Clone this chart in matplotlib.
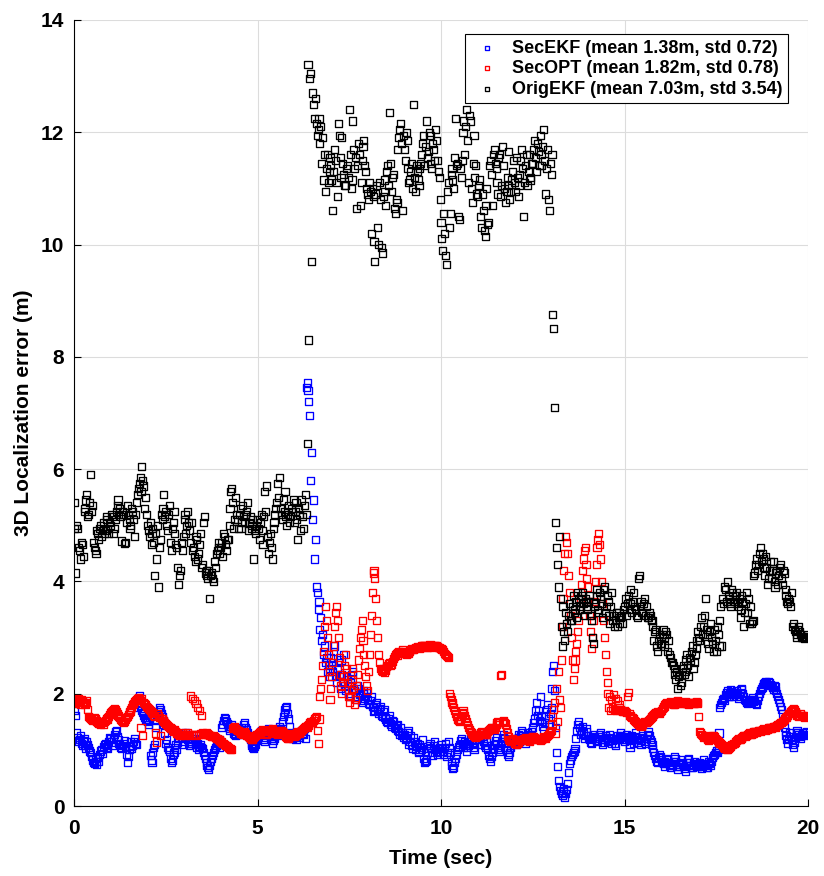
import numpy as np
import matplotlib.pyplot as plt

plt.rcParams['font.family'] = ['Liberation Sans', 'DejaVu Sans']
plt.rcParams['font.weight'] = 'bold'

# sample step of the logged errors (sec), 40 samples per row / second
dt = 0.025

# SecEKF error (m), one row per second
sec_ekf = [
    [1.85, 1.70, 1.62, 1.30, 1.22, 1.15, 1.18, 1.25, 1.12, 1.08, 1.16, 1.20, 1.08, 1.02, 1.14, 1.10, 1.05, 0.98, 0.95, 0.88,
     0.82, 0.78, 0.76, 0.84, 0.80, 0.74, 0.86, 0.80, 0.92, 0.98, 1.00, 0.94, 1.06, 1.10, 1.12, 1.04, 1.02, 1.08, 1.15, 1.22],
    [1.20, 1.14, 1.08, 1.18, 1.28, 1.32, 1.35, 1.24, 1.18, 1.12, 1.10, 1.05, 1.02, 1.08, 1.12, 1.16, 1.06, 0.92, 0.78, 0.88,
     1.00, 1.06, 1.14, 1.02, 1.08, 1.15, 1.20, 1.12, 1.10, 1.75, 1.92, 1.96, 1.85, 1.78, 1.70, 1.66, 1.62, 1.58, 1.55, 1.52],
    [1.50, 1.45, 1.58, 0.90, 0.82, 0.78, 0.95, 1.05, 1.10, 1.40, 1.55, 1.62, 1.68, 1.75, 1.72, 1.65, 1.60, 1.52, 1.45, 1.30,
     1.12, 1.18, 1.05, 1.00, 0.98, 0.85, 0.78, 0.82, 0.92, 0.96, 1.04, 1.10, 1.00, 1.14, 1.20, 1.25, 1.28, 1.20, 1.15, 1.10],
    [1.22, 1.26, 1.30, 1.24, 1.18, 1.12, 1.08, 1.15, 1.12, 1.20, 1.25, 1.20, 1.16, 1.10, 1.05, 1.12, 1.00, 1.06, 1.10, 1.04,
     1.02, 0.95, 0.90, 0.84, 0.78, 0.72, 0.68, 0.65, 0.72, 0.80, 0.85, 0.90, 0.95, 1.00, 1.05, 1.08, 1.12, 1.15, 1.18, 1.05],
    [1.10, 1.40, 1.45, 1.52, 1.58, 1.55, 1.50, 1.46, 1.42, 1.35, 1.38, 1.42, 1.45, 1.38, 1.30, 1.28, 1.25, 1.32, 1.35, 1.30,
     1.28, 1.34, 1.40, 1.36, 1.32, 1.45, 1.48, 1.40, 1.36, 1.30, 1.25, 1.22, 1.18, 1.12, 1.08, 1.05, 1.02, 1.06, 1.10, 1.16],
    [1.20, 1.24, 1.28, 1.32, 1.35, 1.30, 1.22, 1.18, 1.15, 1.25, 1.30, 1.34, 1.38, 1.30, 1.26, 1.20, 1.12, 1.16, 1.20, 1.28,
     1.32, 1.28, 1.25, 1.36, 1.42, 1.38, 1.35, 1.50, 1.60, 1.66, 1.72, 1.75, 1.78, 1.65, 1.55, 1.42, 1.30, 1.25, 1.20, 1.22],
    [1.25, 1.30, 1.18, 1.24, 1.30, 1.26, 1.22, 1.32, 1.35, 1.30, 1.28, 1.38, 1.20, 7.45, 7.55, 7.40, 7.20, 6.95, 5.80, 6.30,
     5.10, 5.45, 4.40, 4.75, 3.90, 3.80, 3.50, 3.65, 3.15, 3.35, 2.95, 3.05, 2.70, 2.85, 2.55, 2.65, 2.40, 2.50, 2.30, 2.45],
    [2.65, 2.50, 2.40, 2.75, 2.85, 2.30, 2.20, 2.45, 2.55, 2.35, 2.10, 2.60, 2.35, 2.20, 2.70, 2.15, 2.05, 2.30, 2.25, 2.00,
     1.95, 2.20, 2.15, 2.35, 2.40, 2.10, 2.05, 1.95, 1.90, 2.15, 2.10, 1.98, 2.00, 1.88, 1.85, 2.00, 2.05, 1.92, 1.95, 2.02],
    [1.90, 1.82, 1.80, 1.88, 1.95, 1.78, 1.75, 1.68, 1.70, 1.80, 1.85, 1.72, 1.65, 1.74, 1.78, 1.62, 1.60, 1.68, 1.72, 1.58,
     1.55, 1.50, 1.48, 1.56, 1.62, 1.46, 1.42, 1.52, 1.50, 1.40, 1.38, 1.44, 1.45, 1.35, 1.33, 1.28, 1.40, 1.25, 1.30, 1.22],
    [1.28, 1.18, 1.20, 1.30, 1.35, 1.10, 1.15, 1.25, 1.08, 1.02, 1.22, 1.14, 1.00, 1.06, 1.12, 0.98, 0.95, 1.10, 1.05, 1.00,
     1.18, 0.85, 0.77, 0.80, 0.82, 0.95, 1.02, 1.08, 1.12, 1.04, 0.95, 0.90, 1.08, 1.14, 1.00, 0.96, 0.92, 1.02, 1.05, 0.98],
    [1.10, 1.02, 0.98, 0.92, 1.05, 1.12, 0.88, 0.95, 1.15, 1.05, 0.95, 0.80, 0.72, 0.66, 0.68, 0.78, 0.85, 0.92, 1.00, 1.06,
     1.10, 1.16, 1.20, 1.12, 1.05, 1.10, 1.15, 1.08, 0.98, 1.04, 1.08, 1.15, 1.22, 1.18, 1.12, 1.05, 1.00, 1.10, 1.18, 1.24],
    [1.25, 1.18, 1.10, 1.22, 1.30, 1.24, 1.15, 1.08, 1.05, 1.14, 1.20, 1.00, 0.90, 0.84, 0.80, 0.88, 0.95, 1.02, 1.10, 1.16,
     1.22, 1.12, 1.05, 1.00, 0.98, 1.08, 1.15, 1.22, 1.28, 1.20, 1.12, 1.05, 1.00, 0.92, 0.88, 0.96, 1.05, 1.12, 1.18, 1.14],
    [1.20, 1.14, 1.10, 1.20, 1.28, 1.22, 1.15, 1.26, 1.35, 1.30, 1.22, 1.16, 1.12, 1.24, 1.30, 1.20, 1.18, 1.28, 1.25, 1.32,
     1.40, 1.48, 1.55, 1.70, 1.85, 1.62, 1.70, 1.52, 1.95, 1.60, 1.50, 1.42, 1.35, 1.48, 1.62, 1.72, 1.80, 1.55, 1.45, 1.65],
    [1.75, 2.10, 2.40, 2.50, 2.05, 1.40, 0.95, 0.70, 0.45, 0.35, 0.28, 0.22, 0.18, 0.25, 0.32, 0.15, 0.22, 0.30, 0.40, 0.60,
     0.75, 0.82, 0.88, 0.92, 0.95, 0.98, 1.02, 1.20, 1.35, 1.45, 1.50, 1.40, 1.28, 1.35, 1.42, 1.30, 1.20, 1.26, 1.38, 1.32],
    [1.25, 1.20, 1.18, 1.14, 1.12, 1.22, 1.28, 1.24, 1.20, 1.16, 1.15, 1.20, 1.24, 1.28, 1.30, 1.18, 1.10, 1.14, 1.18, 1.25,
     1.22, 1.17, 1.15, 1.22, 1.28, 1.20, 1.12, 1.16, 1.20, 1.12, 1.08, 1.18, 1.25, 1.20, 1.18, 1.26, 1.30, 1.24, 1.22, 1.18],
    [1.15, 1.22, 1.28, 1.24, 1.20, 1.10, 1.05, 1.18, 1.25, 1.20, 1.12, 1.24, 1.30, 1.22, 1.18, 1.14, 1.22, 1.16, 1.10, 1.20,
     1.26, 1.20, 1.15, 1.12, 1.20, 1.28, 1.32, 1.25, 1.18, 1.14, 1.10, 1.02, 0.95, 0.90, 0.85, 0.80, 0.78, 0.86, 0.92, 0.88],
    [0.82, 0.78, 0.75, 0.80, 0.70, 0.76, 0.85, 0.82, 0.78, 0.72, 0.68, 0.74, 0.72, 0.80, 0.88, 0.84, 0.80, 0.70, 0.65, 0.70,
     0.74, 0.78, 0.82, 0.76, 0.70, 0.66, 0.62, 0.72, 0.78, 0.82, 0.85, 0.78, 0.72, 0.68, 0.68, 0.74, 0.80, 0.76, 0.75, 0.70],
    [0.70, 0.74, 0.78, 0.72, 0.66, 0.70, 0.82, 0.76, 0.74, 0.68, 0.68, 0.76, 0.80, 0.75, 0.72, 0.80, 0.86, 0.90, 0.92, 0.96,
     0.98, 0.95, 1.00, 1.30, 1.75, 1.80, 1.85, 1.90, 1.92, 1.88, 1.98, 2.02, 2.05, 1.96, 1.95, 2.00, 2.08, 2.04, 2.02, 1.96],
    [1.98, 2.02, 2.06, 1.98, 1.92, 1.96, 2.02, 2.08, 2.10, 2.00, 1.95, 1.90, 1.88, 1.84, 1.82, 1.86, 1.90, 1.88, 1.85, 1.90,
     1.93, 1.86, 1.88, 1.82, 1.80, 1.88, 1.95, 2.00, 2.05, 2.10, 2.12, 2.16, 2.18, 2.20, 2.22, 2.18, 2.15, 2.22, 2.20, 2.16],
    [2.15, 2.12, 2.08, 2.14, 2.12, 2.05, 2.00, 1.95, 1.90, 1.84, 1.78, 1.72, 1.65, 1.52, 1.40, 1.32, 1.25, 1.18, 1.12, 1.20,
     1.30, 1.24, 1.18, 1.10, 1.05, 1.14, 1.22, 1.30, 1.35, 1.30, 1.28, 1.24, 1.20, 1.26, 1.30, 1.28, 1.25, 1.30, 1.32, 1.28],
]

# SecOPT error (m)
sec_opt = [
    [1.86, 1.90, 1.82, 1.85, 1.88, 1.92, 1.84, 1.80, 1.90, 1.86, 1.85, 1.82, 1.80, 1.84, 1.87, 1.72, 1.60, 1.58, 1.56, 1.54,
     1.53, 1.56, 1.58, 1.55, 1.52, 1.50, 1.49, 1.47, 1.47, 1.45, 1.50, 1.48, 1.46, 1.50, 1.52, 1.54, 1.55, 1.58, 1.60, 1.63],
    [1.66, 1.68, 1.70, 1.72, 1.74, 1.71, 1.68, 1.65, 1.62, 1.60, 1.57, 1.55, 1.52, 1.50, 1.48, 1.51, 1.54, 1.57, 1.60, 1.63,
     1.66, 1.69, 1.72, 1.76, 1.80, 1.83, 1.86, 1.88, 1.90, 1.92, 1.94, 1.90, 1.88, 1.40, 1.92, 1.25, 1.85, 1.82, 1.80, 1.78],
    [1.76, 1.74, 1.72, 1.70, 1.68, 1.66, 1.65, 1.62, 1.60, 1.30, 1.14, 1.64, 1.62, 1.58, 1.25, 1.56, 1.55, 1.52, 1.50, 1.48,
     1.47, 1.45, 1.44, 1.42, 1.40, 1.39, 1.38, 1.35, 1.33, 1.34, 1.36, 1.32, 1.30, 1.29, 1.28, 1.26, 1.25, 1.27, 1.30, 1.28],
    [1.28, 1.27, 1.26, 1.28, 1.30, 1.27, 1.25, 1.96, 1.28, 1.92, 1.27, 1.88, 1.28, 1.82, 1.26, 1.76, 1.27, 1.70, 1.29, 1.62,
     1.30, 1.29, 1.27, 1.28, 1.30, 1.29, 1.28, 1.27, 1.26, 1.25, 1.24, 1.23, 1.25, 1.24, 1.22, 1.21, 1.20, 1.19, 1.18, 1.16],
    [1.15, 1.14, 1.12, 1.11, 1.10, 1.08, 1.07, 1.06, 1.05, 1.03, 1.02, 1.01, 1.00, 1.38, 1.40, 1.42, 1.38, 1.36, 1.35, 1.34,
     1.33, 1.31, 1.30, 1.29, 1.28, 1.30, 1.32, 1.29, 1.26, 1.25, 1.24, 1.22, 1.20, 1.19, 1.18, 1.20, 1.22, 1.24, 1.25, 1.27],
    [1.28, 1.29, 1.30, 1.32, 1.33, 1.35, 1.36, 1.33, 1.30, 1.28, 1.27, 1.30, 1.32, 1.34, 1.35, 1.37, 1.38, 1.35, 1.33, 1.31,
     1.30, 1.29, 1.28, 1.30, 1.32, 1.34, 1.35, 1.33, 1.31, 1.29, 1.27, 1.24, 1.22, 1.21, 1.20, 1.23, 1.25, 1.27, 1.29, 1.26],
    [1.24, 1.26, 1.28, 1.30, 1.32, 1.31, 1.30, 1.33, 1.35, 1.37, 1.38, 1.40, 1.42, 1.41, 1.40, 1.43, 1.45, 1.48, 1.50, 1.49,
     1.48, 1.52, 1.55, 1.58, 1.60, 1.35, 1.12, 1.55, 1.95, 2.10, 2.25, 2.50, 2.75, 3.20, 3.55, 3.30, 3.00, 2.70, 2.40, 1.90],
    [2.10, 2.30, 2.55, 2.85, 3.20, 3.45, 3.55, 3.30, 3.00, 2.65, 2.35, 2.15, 2.00, 2.20, 2.30, 2.50, 2.70, 2.45, 2.20, 1.95,
     1.85, 1.95, 2.05, 2.25, 2.45, 2.10, 1.80, 1.90, 2.15, 2.35, 2.60, 2.80, 3.00, 3.15, 3.30, 2.95, 2.70, 2.50, 2.30, 2.15],
    [2.05, 2.40, 2.70, 3.05, 3.40, 3.80, 4.15, 4.20, 4.05, 3.70, 3.30, 3.00, 2.70, 2.55, 2.45, 2.42, 2.40, 2.44, 2.38, 2.42,
     2.45, 2.48, 2.50, 2.53, 2.55, 2.50, 2.52, 2.58, 2.62, 2.66, 2.70, 2.72, 2.68, 2.73, 2.75, 2.74, 2.72, 2.76, 2.78, 2.76],
    [2.74, 2.72, 2.70, 2.71, 2.72, 2.74, 2.76, 2.78, 2.80, 2.79, 2.78, 2.80, 2.82, 2.83, 2.84, 2.82, 2.80, 2.82, 2.83, 2.85,
     2.86, 2.86, 2.85, 2.84, 2.82, 2.83, 2.84, 2.86, 2.87, 2.86, 2.85, 2.84, 2.83, 2.85, 2.86, 2.85, 2.84, 2.83, 2.82, 2.81],
    [2.80, 2.79, 2.78, 2.75, 2.72, 2.70, 2.68, 2.66, 2.64, 2.00, 1.95, 1.90, 1.85, 1.80, 1.76, 1.70, 1.65, 1.60, 1.55, 1.52,
     1.50, 1.55, 1.60, 1.65, 1.70, 1.66, 1.62, 1.56, 1.50, 1.45, 1.40, 1.36, 1.32, 1.30, 1.28, 1.27, 1.25, 1.24, 1.22, 1.23],
    [1.25, 1.26, 1.28, 1.30, 1.32, 1.31, 1.30, 1.28, 1.27, 1.28, 1.30, 1.32, 1.34, 1.36, 1.38, 1.39, 1.40, 1.38, 1.36, 1.40,
     1.45, 1.48, 1.50, 1.49, 1.48, 2.33, 2.35, 1.50, 1.52, 1.49, 1.46, 1.38, 1.30, 1.24, 1.18, 1.16, 1.15, 1.18, 1.20, 1.16],
    [1.12, 1.11, 1.10, 1.12, 1.14, 1.16, 1.18, 1.17, 1.16, 1.18, 1.20, 1.21, 1.22, 1.20, 1.18, 1.16, 1.15, 1.18, 1.20, 1.22,
     1.24, 1.23, 1.22, 1.20, 1.18, 1.19, 1.20, 1.18, 1.16, 1.18, 1.19, 1.21, 1.23, 1.22, 1.21, 1.24, 1.26, 1.28, 1.30, 1.32],
    [1.35, 1.45, 1.60, 1.72, 1.85, 1.30, 2.10, 1.50, 2.40, 1.90, 1.75, 2.60, 3.20, 3.70, 4.20, 4.50, 4.80, 4.70, 4.50, 4.10,
     3.80, 3.40, 3.00, 2.60, 2.25, 2.45, 2.60, 2.75, 2.90, 3.10, 3.30, 3.50, 3.70, 3.95, 4.20, 4.40, 4.55, 4.60, 4.30, 4.05],
    [3.90, 3.65, 3.40, 3.10, 2.80, 3.00, 3.30, 3.65, 4.00, 4.30, 4.60, 4.75, 4.85, 4.65, 4.40, 4.00, 3.60, 3.30, 3.00, 2.70,
     2.40, 2.20, 2.00, 1.75, 1.95, 1.70, 1.90, 1.74, 1.98, 1.72, 1.92, 1.70, 1.88, 1.71, 1.80, 1.76, 1.72, 1.70, 1.68, 1.69],
    [1.70, 1.68, 1.66, 1.95, 2.02, 1.64, 1.62, 1.60, 1.58, 1.57, 1.55, 1.52, 1.50, 1.48, 1.47, 1.45, 1.44, 1.43, 1.42, 1.44,
     1.46, 1.48, 1.50, 1.49, 1.48, 1.50, 1.52, 1.54, 1.56, 1.58, 1.60, 1.62, 1.63, 1.65, 1.66, 1.67, 1.68, 1.66, 1.65, 1.68],
    [1.70, 1.73, 1.76, 1.78, 1.80, 1.82, 1.84, 1.83, 1.82, 1.84, 1.86, 1.85, 1.83, 1.81, 1.80, 1.82, 1.84, 1.86, 1.87, 1.86,
     1.85, 1.84, 1.82, 1.83, 1.84, 1.85, 1.86, 1.85, 1.83, 1.82, 1.81, 1.83, 1.85, 1.85, 1.84, 1.83, 1.82, 1.84, 1.86, 1.85],
    [1.83, 1.60, 1.32, 1.30, 1.28, 1.25, 1.22, 1.24, 1.25, 1.22, 1.20, 1.18, 1.17, 1.20, 1.22, 1.24, 1.26, 1.25, 1.24, 1.21,
     1.18, 1.16, 1.15, 1.13, 1.12, 1.11, 1.10, 1.07, 1.05, 1.03, 1.02, 1.01, 1.00, 1.02, 1.04, 1.06, 1.08, 1.09, 1.10, 1.11],
    [1.12, 1.14, 1.16, 1.18, 1.20, 1.19, 1.18, 1.20, 1.22, 1.24, 1.25, 1.25, 1.24, 1.26, 1.28, 1.29, 1.30, 1.28, 1.27, 1.29,
     1.30, 1.32, 1.33, 1.32, 1.31, 1.33, 1.35, 1.34, 1.33, 1.35, 1.36, 1.37, 1.38, 1.36, 1.35, 1.36, 1.37, 1.39, 1.40, 1.39],
    [1.38, 1.40, 1.42, 1.41, 1.40, 1.42, 1.44, 1.45, 1.45, 1.47, 1.48, 1.49, 1.50, 1.52, 1.55, 1.57, 1.58, 1.60, 1.62, 1.64,
     1.65, 1.68, 1.70, 1.72, 1.74, 1.71, 1.68, 1.65, 1.62, 1.61, 1.60, 1.62, 1.64, 1.62, 1.61, 1.60, 1.58, 1.60, 1.62, 1.60],
]

# OrigEKF error (m)
orig_ekf = [
    [5.40, 4.95, 4.15, 5.00, 4.95, 4.60, 4.55, 4.40, 4.70, 4.65, 4.45, 5.25, 5.30, 5.45, 5.55, 5.15, 5.20, 5.40, 5.90, 5.25,
     5.35, 4.70, 4.60, 4.55, 4.50, 4.90, 4.85, 4.75, 4.95, 5.00, 4.80, 4.90, 5.05, 4.85, 4.90, 5.15, 5.10, 4.95, 4.85, 5.05],
    [5.00, 5.20, 5.15, 4.85, 4.95, 5.10, 5.25, 5.35, 5.45, 5.20, 5.30, 5.15, 4.72, 5.25, 5.20, 4.68, 4.70, 5.05, 5.35, 5.20,
     5.10, 4.95, 5.00, 5.30, 5.25, 5.10, 4.80, 5.20, 5.40, 5.55, 5.65, 5.75, 5.85, 5.60, 6.05, 5.80, 5.70, 5.30, 5.50, 5.20],
    [5.00, 4.90, 4.80, 5.05, 4.65, 4.85, 4.95, 4.70, 4.10, 4.85, 4.40, 5.00, 3.90, 4.60, 4.75, 5.20, 5.10, 5.30, 5.55, 5.15,
     5.25, 5.00, 4.90, 5.20, 5.35, 4.70, 4.55, 4.95, 5.05, 5.25, 4.85, 4.65, 4.60, 4.25, 3.95, 4.10, 4.20, 4.70, 4.55, 4.80],
    [5.10, 5.20, 4.85, 5.00, 5.25, 5.05, 4.90, 4.70, 5.05, 4.55, 4.60, 4.45, 4.35, 4.80, 4.75, 4.40, 4.50, 4.65, 4.85, 4.25,
     4.30, 5.05, 5.15, 4.15, 4.20, 4.10, 4.05, 4.20, 3.70, 4.10, 4.15, 4.05, 4.00, 4.35, 4.25, 4.50, 4.55, 4.60, 4.70, 4.50],
    [4.60, 4.70, 4.45, 4.85, 4.80, 4.65, 4.55, 4.75, 4.75, 5.00, 5.30, 5.60, 5.65, 5.40, 4.95, 5.10, 5.50, 5.20, 5.10, 4.95,
     5.20, 5.30, 4.95, 5.05, 5.35, 5.15, 5.05, 5.20, 5.25, 5.40, 4.90, 5.05, 5.15, 4.95, 5.00, 5.10, 4.40, 4.90, 4.85, 5.00],
    [5.10, 4.95, 4.75, 5.05, 5.20, 4.90, 4.65, 5.15, 5.60, 5.25, 5.70, 4.80, 4.50, 4.70, 4.85, 4.60, 4.40, 4.95, 5.05, 5.20,
     5.30, 5.40, 5.75, 5.50, 5.85, 5.30, 5.20, 5.10, 5.45, 5.25, 5.60, 5.15, 5.00, 5.20, 5.35, 5.05, 5.15, 5.30, 5.25, 5.45],
    [5.05, 5.25, 5.40, 5.10, 4.75, 5.30, 5.20, 4.90, 5.45, 5.15, 4.95, 5.35, 5.55, 5.20, 6.45, 13.20, 8.30, 12.95, 13.05, 9.70,
     12.70, 12.50, 12.25, 12.60, 12.15, 11.95, 12.05, 12.25, 11.80, 12.10, 11.45, 11.90, 11.15, 11.60, 10.95, 11.35, 11.60, 11.10, 11.30, 11.55],
    [11.40, 11.15, 10.60, 11.30, 11.70, 11.50, 11.10, 10.85, 12.15, 11.95, 11.55, 11.20, 11.90, 11.45, 11.25, 11.05, 11.05, 11.35, 11.40, 11.20,
     12.40, 11.60, 11.00, 11.15, 12.20, 11.70, 11.35, 11.55, 10.65, 11.40, 11.80, 11.60, 10.70, 11.10, 11.50, 11.75, 11.85, 11.40, 11.30, 11.00],
    [10.90, 10.80, 11.10, 10.95, 10.20, 11.00, 10.85, 10.05, 9.70, 10.90, 11.05, 10.30, 10.00, 11.10, 10.80, 9.95, 9.85, 10.85, 11.15, 10.95,
     10.70, 11.30, 11.40, 11.05, 12.35, 11.45, 10.95, 11.20, 11.25, 10.65, 10.55, 10.80, 10.75, 11.70, 11.90, 12.05, 12.15, 11.80, 10.60, 11.95],
    [11.70, 11.50, 12.00, 11.85, 11.35, 11.10, 11.15, 11.30, 11.45, 11.00, 12.50, 11.20, 10.95, 11.40, 11.30, 11.15, 11.05, 11.35, 11.45, 11.60,
     11.80, 11.95, 11.40, 11.75, 12.20, 11.55, 11.65, 12.00, 11.95, 11.45, 11.35, 11.80, 11.70, 11.50, 12.05, 11.85, 11.50, 11.30, 11.20, 10.80],
    [10.40, 10.10, 9.90, 10.55, 10.20, 9.80, 9.65, 10.95, 11.10, 10.30, 10.55, 11.25, 11.35, 11.15, 11.00, 11.55, 12.25, 11.40, 11.45, 10.50,
     10.45, 11.35, 11.20, 11.50, 12.00, 12.20, 11.60, 12.10, 12.40, 11.85, 11.10, 12.30, 12.20, 11.00, 10.75, 11.45, 11.95, 11.20, 11.40, 10.90],
    [10.85, 11.05, 11.15, 10.50, 10.30, 10.90, 10.60, 10.25, 10.15, 10.70, 11.00, 10.35, 10.40, 11.40, 11.50, 11.25, 10.70, 11.60, 11.70, 11.45,
     11.35, 11.10, 10.90, 11.55, 11.60, 10.85, 11.05, 11.75, 11.40, 11.00, 10.75, 10.95, 11.20, 11.05, 11.65, 10.80, 10.95, 11.15, 11.30, 11.50],
    [11.10, 10.95, 11.55, 11.20, 10.85, 11.05, 11.25, 11.50, 11.70, 11.35, 10.50, 11.10, 11.40, 11.60, 11.05, 11.30, 11.60, 11.15, 11.20, 11.45,
     11.45, 11.70, 11.85, 11.55, 11.30, 11.80, 11.65, 11.40, 11.95, 11.60, 11.40, 11.75, 12.05, 11.50, 10.90, 11.35, 11.70, 10.80, 10.60, 11.45],
    [11.25, 11.60, 8.75, 8.50, 7.10, 5.05, 4.60, 4.30, 3.90, 4.80, 3.70, 3.20, 2.85, 3.55, 3.10, 2.95, 3.45, 3.25, 3.10, 3.40,
     3.60, 3.30, 3.30, 3.55, 3.75, 3.45, 3.50, 3.65, 3.35, 3.80, 3.70, 3.50, 3.55, 3.75, 3.80, 3.60, 3.40, 3.70, 3.65, 3.55],
    [3.50, 3.65, 3.75, 3.40, 3.30, 3.00, 2.90, 3.55, 3.60, 3.75, 3.85, 3.50, 3.45, 3.80, 3.70, 3.60, 3.35, 3.85, 3.90, 3.45,
     3.55, 3.75, 3.65, 3.40, 3.25, 3.55, 3.80, 3.30, 3.40, 3.20, 3.30, 3.45, 3.20, 3.35, 3.45, 3.25, 3.35, 3.40, 3.25, 3.50],
    [3.55, 3.70, 3.40, 3.60, 3.75, 3.50, 3.60, 3.85, 3.45, 3.65, 3.80, 3.55, 3.50, 3.40, 3.35, 4.05, 4.10, 3.55, 3.65, 3.45,
     3.45, 3.60, 3.70, 3.40, 3.55, 3.35, 3.35, 3.45, 3.40, 3.30, 3.30, 3.20, 2.95, 3.10, 3.15, 2.85, 2.75, 2.95, 3.05, 2.90],
    [2.90, 3.05, 3.15, 3.00, 2.85, 3.10, 3.05, 2.75, 2.95, 2.70, 2.65, 2.55, 2.55, 2.50, 2.45, 2.35, 2.25, 2.40, 2.10, 2.30,
     2.35, 2.15, 2.20, 2.45, 2.50, 2.35, 2.40, 2.60, 2.70, 2.50, 2.30, 2.65, 2.60, 2.75, 2.85, 2.45, 2.55, 2.70, 2.80, 2.95],
    [3.10, 3.00, 2.95, 3.20, 3.35, 3.05, 3.20, 3.40, 3.70, 3.15, 3.05, 2.90, 2.80, 3.10, 3.25, 3.00, 2.90, 2.75, 3.15, 2.95,
     2.75, 3.20, 3.05, 2.85, 3.30, 3.55, 2.85, 3.70, 3.60, 3.90, 3.85, 3.65, 4.00, 3.75, 3.70, 3.60, 3.55, 3.85, 3.80, 3.65],
    [3.65, 3.75, 3.80, 3.60, 3.55, 3.70, 3.35, 3.50, 3.75, 3.65, 3.20, 3.45, 3.60, 3.80, 3.45, 3.70, 3.25, 3.55, 3.25, 3.28,
     3.30, 4.10, 4.15, 4.30, 4.40, 4.20, 4.30, 4.50, 4.60, 4.35, 4.50, 4.40, 4.25, 4.10, 4.45, 4.25, 3.95, 4.05, 4.20, 4.35],
    [4.05, 4.20, 4.35, 4.00, 3.90, 4.15, 4.20, 3.95, 4.10, 4.25, 4.30, 4.05, 3.95, 4.20, 4.15, 3.85, 3.75, 3.65, 3.60, 3.70,
     3.65, 3.55, 3.80, 3.20, 3.25, 3.15, 3.10, 3.05, 3.00, 3.15, 3.20, 3.10, 3.05, 3.00, 3.00, 3.02, 2.98, 3.00, 3.02, 3.05],
]

labels = ['SecEKF (mean 1.38m, std 0.72)',
          'SecOPT (mean 1.82m, std 0.78)',
          'OrigEKF (mean 7.03m, std 3.54)']
colors = ['#0000ff', '#ff0000', '#000000']

fig = plt.figure(figsize=(8.24, 8.76), dpi=100)
ax = fig.add_axes([0.0898, 0.0799, 0.8908, 0.8973])

for rows, lab, col in zip([sec_ekf, sec_opt, orig_ekf], labels, colors):
    t = np.concatenate([sec + np.arange(len(r)) * dt for sec, r in enumerate(rows)])
    y = np.concatenate([np.array(r) for r in rows])
    ax.scatter(t, y, s=26, marker='s', facecolors='none', edgecolors=col,
               linewidths=0.95, label=lab)

ax.set_xlim(0, 20)
ax.set_ylim(0, 14)
ax.set_xticks([0, 5, 10, 15, 20])
ax.set_yticks(range(0, 15, 2))
ax.grid(True, color='#dcdcdc', linewidth=0.8)
ax.set_axisbelow(True)
for side in ['top', 'right']:
    ax.spines[side].set_visible(False)
ax.tick_params(direction='in', length=5, labelsize=15, width=0.8)
ax.tick_params(axis='x', pad=9)
ax.tick_params(axis='y', pad=7)
ax.set_xlabel('Time (sec)', fontsize=15, fontweight='bold', labelpad=8)
ax.set_ylabel('3D Localization error (m)', fontsize=15, fontweight='bold', labelpad=6)

leg = ax.legend(loc='upper right', bbox_to_anchor=(0.973, 0.982), borderaxespad=0,
                prop={'weight': 'bold', 'size': 13}, markerscale=0.55,
                handletextpad=0.5, handlelength=1.8, borderpad=0.3,
                labelspacing=0.2, fancybox=False, framealpha=1, edgecolor='black')
leg.get_frame().set_linewidth(0.8)

fig.savefig('out.png', dpi=100)
